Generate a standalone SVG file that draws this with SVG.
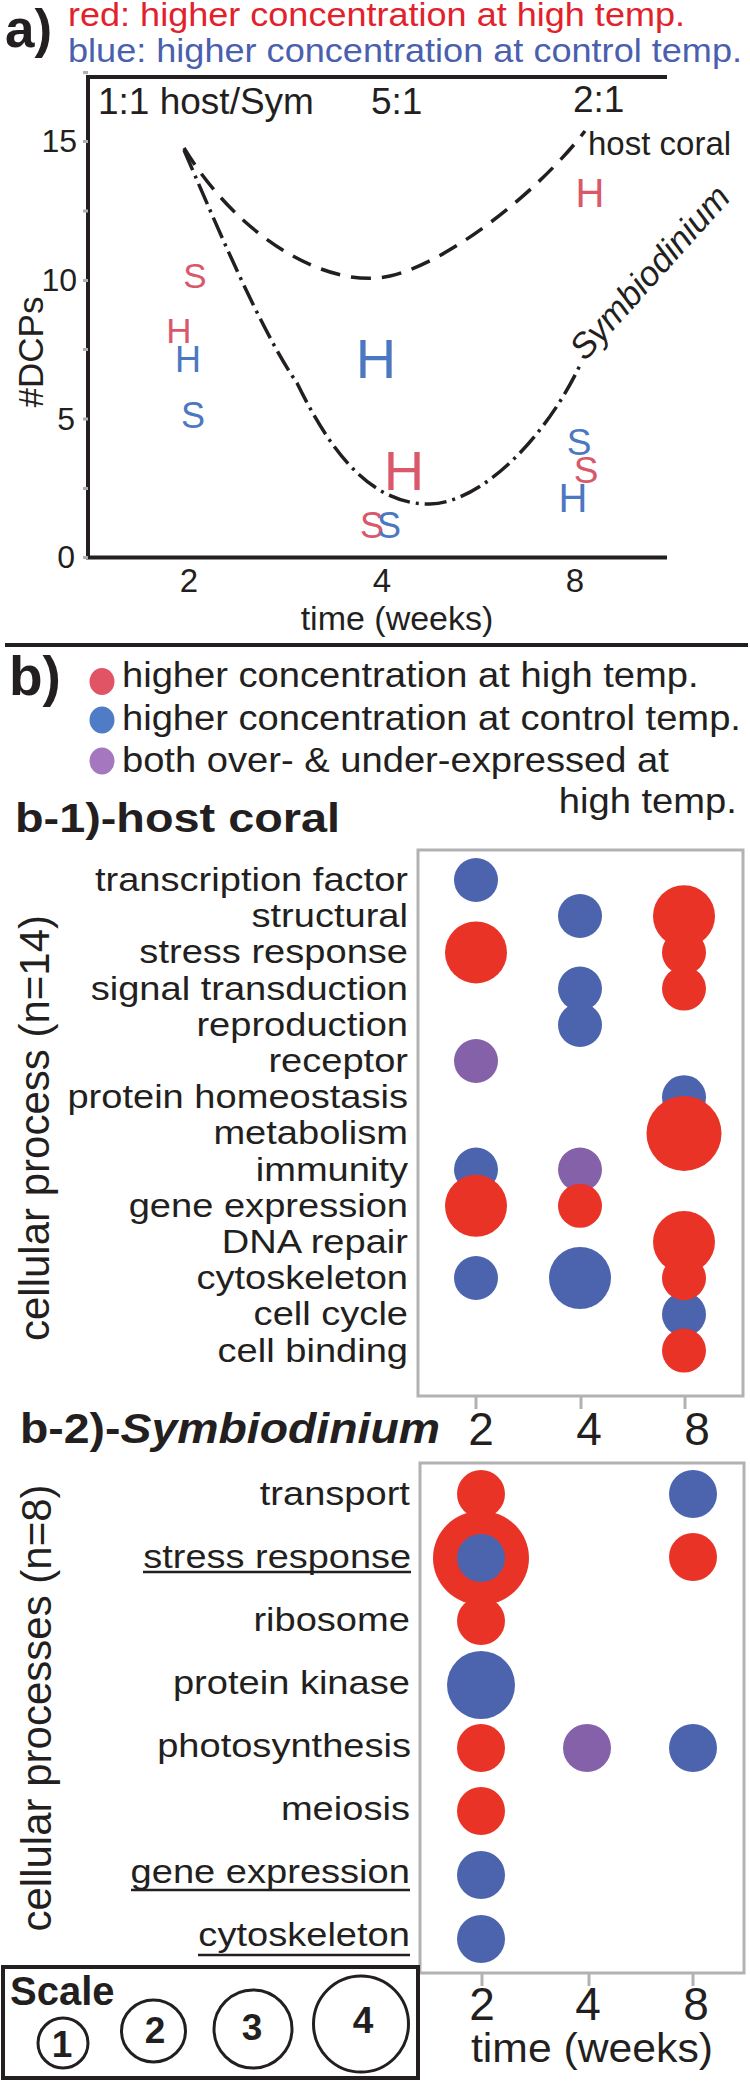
<svg xmlns="http://www.w3.org/2000/svg" width="750" height="2081" viewBox="0 0 750 2081">
<style>
text { font-family: "Liberation Sans", Arial, Helvetica, sans-serif; fill: #231f20; }
.b { font-weight: bold; }
.ax { stroke: #231f20; stroke-width: 4; fill: none; }
.gt { fill: #b0b0b0; }
.box { fill: none; stroke: #b2b2b2; stroke-width: 3; }
.tk { stroke: #b2b2b2; stroke-width: 3; }
.dR { fill: #ea3327; }
.dB { fill: #4c63ad; }
.dP { fill: #8461a8; }
.pr { fill: #d9586a; }
.pb { fill: #4b78c0; }
.ul { stroke: #231f20; stroke-width: 2.5; }
.lbl { font-size: 34px; }
.ring { fill: none; stroke: #231f20; stroke-width: 3; }
</style>
<rect width="750" height="2081" fill="#ffffff"/>

<g id="panel-a-title">
<text class="b" x="5" y="47" font-size="53">a)</text>
<text x="68" y="26" font-size="33" style="fill:#e2222b" textLength="617" lengthAdjust="spacingAndGlyphs">red: higher concentration at high temp.</text>
<text x="68" y="62" font-size="33" style="fill:#4a5fae" textLength="674" lengthAdjust="spacingAndGlyphs">blue: higher concentration at control temp.</text>
</g>

<g id="panel-a-axes">
<path class="ax" d="M86,77 H667 M88,75 V559 M86,557.5 H667"/>
<rect class="gt" x="83" y="71" width="5" height="3"/>
<rect class="gt" x="83" y="140" width="5" height="3"/>
<rect class="gt" x="83" y="209.5" width="5" height="3"/>
<rect class="gt" x="83" y="279" width="5" height="3"/>
<rect class="gt" x="83" y="348" width="5" height="3"/>
<rect class="gt" x="83" y="417.5" width="5" height="3"/>
<rect class="gt" x="83" y="487" width="5" height="3"/>
<rect class="gt" x="83" y="556" width="5" height="3"/>
<g font-size="32" text-anchor="end">
<text x="77" y="152">15</text>
<text x="77" y="291">10</text>
<text x="75" y="430">5</text>
<text x="75" y="568">0</text>
</g>
<g font-size="33" text-anchor="middle">
<text x="189" y="592">2</text>
<text x="382" y="592">4</text>
<text x="575" y="592">8</text>
</g>
<text x="397" y="630" font-size="34" text-anchor="middle">time (weeks)</text>
<text transform="translate(43,352) rotate(-90)" font-size="35" text-anchor="middle">#DCPs</text>
<g font-size="37">
<text x="98" y="114">1:1 host/Sym</text>
<text x="371" y="114">5:1</text>
<text x="573" y="112">2:1</text>
</g>
<text x="588" y="155" font-size="33">host coral</text>
<text transform="translate(585,362) rotate(-48)" font-size="35" font-style="italic">Symbiodinium</text>
</g>

<g id="connectors">
<path d="M184,148 C240,240 330,290 390,276 C450,262 540,190 585,131" fill="none" stroke="#231f20" stroke-width="3.5" stroke-dasharray="20 11"/>
<path d="M184,150 C210,210 260,330 297,383 C325,440 365,505 430,504 C480,503 545,440 581,363" fill="none" stroke="#231f20" stroke-width="3.5" stroke-dasharray="22 6 3 6"/>
</g>

<g id="panel-a-letters">
<text class="pr" x="195" y="288" font-size="35" text-anchor="middle">S</text>
<text class="pr" x="179" y="343" font-size="35" text-anchor="middle">H</text>
<text class="pb" x="188" y="372" font-size="36" text-anchor="middle">H</text>
<text class="pb" x="193" y="428" font-size="36" text-anchor="middle">S</text>
<text class="pb" x="376" y="378" font-size="56" text-anchor="middle">H</text>
<text class="pr" x="404" y="490" font-size="56" text-anchor="middle">H</text>
<text class="pr" x="372" y="538" font-size="36" text-anchor="middle">S</text>
<text class="pb" x="389" y="538" font-size="36" text-anchor="middle">S</text>
<text class="pr" x="590" y="207" font-size="40" text-anchor="middle">H</text>
<text class="pb" x="579" y="455" font-size="37" text-anchor="middle">S</text>
<text class="pr" x="586" y="483" font-size="37" text-anchor="middle">S</text>
<text class="pb" x="573" y="512" font-size="40" text-anchor="middle">H</text>
</g>

<line x1="5" y1="645" x2="748" y2="645" stroke="#231f20" stroke-width="4"/>

<g id="panel-b-legend">
<text class="b" x="9" y="695" font-size="55">b)</text>
<ellipse cx="102" cy="681.5" rx="12.5" ry="13.5" fill="#e05466"/>
<ellipse cx="102" cy="720" rx="12.5" ry="13.5" fill="#4f7cc6"/>
<ellipse cx="102" cy="761" rx="12.5" ry="13.5" fill="#a577bf"/>
<g transform="scale(1.09,1)" font-size="35">
<text x="111.9" y="687">higher concentration at high temp.</text>
<text x="111.9" y="730">higher concentration at control temp.</text>
<text x="111.9" y="772">both over- &amp; under-expressed at</text>
<text x="676" y="813" text-anchor="end">high temp.</text>
</g>
</g>

<g id="b1-host-coral">
<text class="b" x="15" y="832" font-size="41" textLength="325" lengthAdjust="spacingAndGlyphs">b-1)-host coral</text>
<rect class="box" x="418" y="850" width="325" height="546"/>
<line class="tk" x1="476" y1="1396" x2="476" y2="1409"/>
<line class="tk" x1="581" y1="1396" x2="581" y2="1409"/>
<line class="tk" x1="685" y1="1396" x2="685" y2="1409"/>
<g font-size="46" text-anchor="middle">
<text x="481" y="1445">2</text>
<text x="589" y="1445">4</text>
<text x="697" y="1445">8</text>
</g>
<text transform="translate(49,1128) rotate(-90)" font-size="42" text-anchor="middle">cellular process (n=14)</text>
<g transform="scale(1.12,1)" class="lbl" text-anchor="end">
<text x="364.3" y="891">transcription factor</text>
<text x="364.3" y="927.2">structural</text>
<text x="364.3" y="963.4">stress response</text>
<text x="364.3" y="999.6">signal transduction</text>
<text x="364.3" y="1035.8">reproduction</text>
<text x="364.3" y="1072">receptor</text>
<text x="364.3" y="1108.2">protein homeostasis</text>
<text x="364.3" y="1144.4">metabolism</text>
<text x="364.3" y="1180.6">immunity</text>
<text x="364.3" y="1216.8">gene expression</text>
<text x="364.3" y="1253">DNA repair</text>
<text x="364.3" y="1289.2">cytoskeleton</text>
<text x="364.3" y="1325.4">cell cycle</text>
<text x="364.3" y="1361.6">cell binding</text>
</g>
<circle class="dB" cx="476" cy="880" r="22"/>
<circle class="dP" cx="476" cy="1061" r="22"/>
<circle class="dB" cx="476" cy="1169.6" r="22"/>
<circle class="dB" cx="476" cy="1278" r="22"/>
<circle class="dR" cx="476" cy="952.4" r="31"/>
<circle class="dR" cx="476" cy="1205.8" r="31"/>
<circle class="dB" cx="580" cy="916" r="22"/>
<circle class="dB" cx="580" cy="988.6" r="22"/>
<circle class="dB" cx="580" cy="1025" r="22"/>
<circle class="dP" cx="580" cy="1169.6" r="22"/>
<circle class="dR" cx="580" cy="1205.8" r="22"/>
<circle class="dB" cx="580" cy="1278" r="31"/>
<circle class="dB" cx="684" cy="1097.2" r="22"/>
<circle class="dB" cx="684" cy="1314.4" r="22"/>
<circle class="dR" cx="684" cy="916.2" r="31"/>
<circle class="dR" cx="684" cy="952.4" r="22"/>
<circle class="dR" cx="684" cy="988.6" r="22"/>
<circle class="dR" cx="684" cy="1133.4" r="37.5"/>
<circle class="dR" cx="684" cy="1242" r="31"/>
<circle class="dR" cx="684" cy="1278.2" r="22"/>
<circle class="dR" cx="684" cy="1350.6" r="22"/>
</g>

<g id="b2-symbiodinium">
<text class="b" x="20" y="1443" font-size="43" textLength="420" lengthAdjust="spacingAndGlyphs">b-2)-<tspan font-style="italic">Symbiodinium</tspan></text>
<rect class="box" x="420" y="1463" width="324" height="510"/>
<line class="tk" x1="482" y1="1973" x2="482" y2="1986"/>
<line class="tk" x1="589" y1="1973" x2="589" y2="1986"/>
<line class="tk" x1="693" y1="1973" x2="693" y2="1986"/>
<g font-size="46" text-anchor="middle">
<text x="482" y="2020">2</text>
<text x="588" y="2020">4</text>
<text x="696" y="2020">8</text>
</g>
<text x="471" y="2062" font-size="40" textLength="242" lengthAdjust="spacingAndGlyphs">time (weeks)</text>
<text transform="translate(51,1708) rotate(-90)" font-size="42" text-anchor="middle">cellular processes (n=8)</text>
<g transform="scale(1.12,1)" class="lbl" text-anchor="end">
<text x="366" y="1505">transport</text>
<text x="367" y="1568" textLength="239" lengthAdjust="spacingAndGlyphs">stress response</text>
<text x="366" y="1631">ribosome</text>
<text x="366" y="1694">protein kinase</text>
<text x="367" y="1757">photosynthesis</text>
<text x="366" y="1820">meiosis</text>
<text x="366" y="1883">gene expression</text>
<text x="366" y="1946">cytoskeleton</text>
</g>
<line class="ul" x1="143" y1="1572" x2="411" y2="1572"/>
<line class="ul" x1="131" y1="1890" x2="410" y2="1890"/>
<line class="ul" x1="198" y1="1955" x2="410" y2="1955"/>
<circle class="dR" cx="481" cy="1494" r="24"/>
<circle class="dR" cx="481" cy="1621" r="24"/>
<ellipse class="dR" cx="481" cy="1558" rx="48" ry="47"/>
<circle class="dB" cx="481" cy="1558" r="24"/>
<circle class="dB" cx="481" cy="1685" r="34"/>
<circle class="dR" cx="481" cy="1748" r="24"/>
<circle class="dR" cx="481" cy="1811" r="24"/>
<circle class="dB" cx="481" cy="1875" r="24"/>
<circle class="dB" cx="481" cy="1939" r="24"/>
<circle class="dP" cx="587" cy="1748" r="24"/>
<circle class="dB" cx="693" cy="1494" r="24"/>
<circle class="dR" cx="693" cy="1557" r="24"/>
<circle class="dB" cx="693" cy="1748" r="24"/>
</g>

<g id="scale-legend">
<rect x="3" y="1967" width="415" height="111" fill="none" stroke="#231f20" stroke-width="4"/>
<text class="b" x="10" y="2005" font-size="40">Scale</text>
<circle class="ring" cx="63" cy="2043" r="25"/>
<ellipse class="ring" cx="153.5" cy="2031" rx="32" ry="31"/>
<circle class="ring" cx="253" cy="2029" r="39"/>
<ellipse class="ring" cx="361" cy="2024" rx="47.5" ry="48"/>
<g class="b" font-size="37" text-anchor="middle">
<text x="62" y="2057">1</text>
<text x="155" y="2043">2</text>
<text x="252" y="2040">3</text>
<text x="363" y="2033">4</text>
</g>
</g>
</svg>
